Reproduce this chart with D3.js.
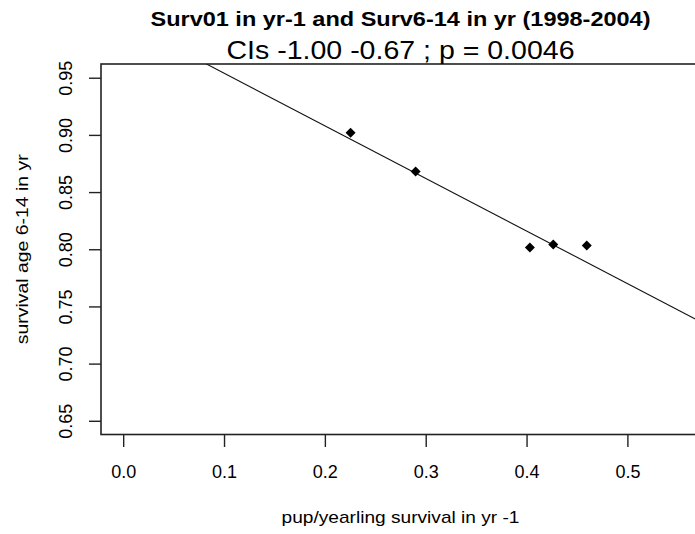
<!DOCTYPE html>
<html>
<head>
<meta charset="utf-8">
<script src="https://cdn.jsdelivr.net/npm/d3@7"></script>
<style>
  html, body { margin: 0; padding: 0; background: #fff; }
  svg { display: block; }
  text { font-family: "Liberation Sans", Arial, sans-serif; fill: #000; }
</style>
</head>
<body>
<div id="chart"></div>
<script>
// ---- data ----
const titleText = "Surv01 in yr-1 and Surv6-14 in yr (1998-2004)";
const subtitleText = "CIs -1.00 -0.67 ; p = 0.0046";
const xLabel = "pup/yearling survival in yr -1";
const yLabel = "survival age 6-14 in yr";
const pupSurvival = [0.2255, 0.290, 0.4033, 0.4265, 0.4597];
const adultSurvival = [0.9018, 0.868, 0.8015, 0.8041, 0.8032];
const fitCoef = [1.0, -0.46];           // intercept, slope of the fitted line
const xLim = [0, 0.55];
const yLim = [0.65, 0.95];
const xTicks = [0.0, 0.1, 0.2, 0.3, 0.4, 0.5];
const yTicks = [0.65, 0.70, 0.75, 0.80, 0.85, 0.90, 0.95];

// ---- layout ----
const W = 695, H = 534;
const plot = { left: 101, right: 700, top: 64, bottom: 434.5 };

const pad = v => (v[1] - v[0]) * 0.04;
const x = d3.scaleLinear()
  .domain([xLim[0] - pad(xLim), xLim[1] + pad(xLim)])
  .range([plot.left, plot.right]);
const y = d3.scaleLinear()
  .domain([yLim[0] - pad(yLim), yLim[1] + pad(yLim)])
  .range([plot.bottom, plot.top]);

const svg = d3.select("#chart").append("svg")
  .attr("width", W).attr("height", H);

svg.append("defs").append("clipPath").attr("id", "plotclip")
  .append("rect")
  .attr("x", plot.left).attr("y", plot.top)
  .attr("width", plot.right - plot.left).attr("height", plot.bottom - plot.top);

// fitted line
const xd = x.domain();
svg.append("line")
  .attr("clip-path", "url(#plotclip)")
  .attr("x1", x(xd[0])).attr("y1", y(fitCoef[0] + fitCoef[1] * xd[0]))
  .attr("x2", x(xd[1])).attr("y2", y(fitCoef[0] + fitCoef[1] * xd[1]))
  .attr("stroke", "#111").attr("stroke-width", 1.1);

// points (filled diamonds)
const diamond = d3.symbol().type(d3.symbolSquare).size(50);
svg.append("g").selectAll("path")
  .data(pupSurvival.map((v, i) => [v, adultSurvival[i]]))
  .join("path")
  .attr("d", diamond)
  .attr("transform", d => `translate(${x(d[0])},${y(d[1])}) rotate(45)`)
  .attr("fill", "#000");

// box
svg.append("rect")
  .attr("x", plot.left).attr("y", plot.top)
  .attr("width", plot.right - plot.left).attr("height", plot.bottom - plot.top)
  .attr("fill", "none").attr("stroke", "#222").attr("stroke-width", 1.6);

// x axis
const xAxis = d3.axisBottom(x).tickValues(xTicks).tickFormat(d3.format(".1f"))
  .tickSize(12).tickPadding(18);
const gx = svg.append("g").attr("transform", `translate(0,${plot.bottom + 0.5})`).call(xAxis);
gx.select(".domain").remove();
gx.selectAll(".tick line").attr("stroke", "#222").attr("stroke-width", 1.4);
gx.selectAll(".tick text").attr("font-size", 18).attr("font-family", "Liberation Sans, Arial, sans-serif").attr("fill", "#000");

// y axis
const yAxis = d3.axisLeft(y).tickValues(yTicks).tickFormat(d3.format(".2f"))
  .tickSize(12).tickPadding(0);
const gy = svg.append("g").attr("transform", `translate(${plot.left},0)`).call(yAxis);
gy.select(".domain").remove();
gy.selectAll(".tick line").attr("stroke", "#222").attr("stroke-width", 1.4);
gy.selectAll(".tick text")
  .attr("font-size", 18).attr("font-family", "Liberation Sans, Arial, sans-serif").attr("fill", "#000")
  .attr("x", null).attr("dy", null)
  .attr("text-anchor", "middle")
  .attr("transform", "translate(-29,0) rotate(-90)");

// titles
const cx = (plot.left + plot.right) / 2;
svg.append("text").text(titleText)
  .attr("x", cx).attr("y", 26).attr("text-anchor", "middle")
  .attr("font-size", 21).attr("font-weight", "bold")
  .attr("textLength", 500).attr("lengthAdjust", "spacingAndGlyphs");
svg.append("text").text(subtitleText)
  .attr("x", cx).attr("y", 59).attr("text-anchor", "middle")
  .attr("font-size", 25)
  .attr("textLength", 348).attr("lengthAdjust", "spacingAndGlyphs");

// axis labels
svg.append("text").text(xLabel)
  .attr("x", cx).attr("y", 523).attr("text-anchor", "middle")
  .attr("font-size", 17)
  .attr("textLength", 238).attr("lengthAdjust", "spacingAndGlyphs");
svg.append("text").text(yLabel)
  .attr("text-anchor", "middle")
  .attr("transform", `translate(28,${(plot.top + plot.bottom) / 2}) rotate(-90)`)
  .attr("font-size", 17)
  .attr("textLength", 190).attr("lengthAdjust", "spacingAndGlyphs");
</script>
</body>
</html>
